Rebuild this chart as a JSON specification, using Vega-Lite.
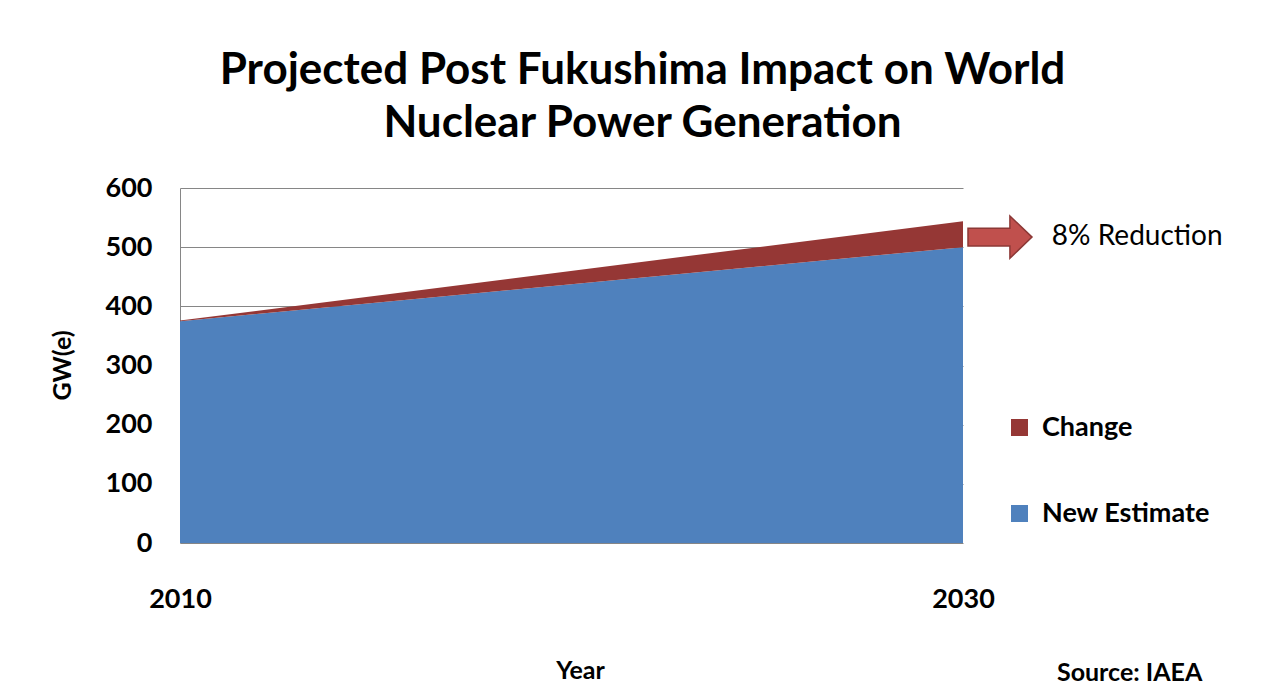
{
  "$schema": "https://vega.github.io/schema/vega-lite/v6.json",
  "autosize": "none",
  "width": 783,
  "height": 355,
  "padding": {"left": 180, "top": 188, "right": 303, "bottom": 153},
  "background": "white",
  "config": {
    "font": "Lato",
    "view": {"stroke": null}
  },
  "title": {
    "text": ["Projected Post Fukushima Impact on World", "Nuclear Power Generation"],
    "anchor": "middle",
    "dx": 71,
    "offset": 28,
    "fontSize": 44,
    "lineHeight": 53,
    "font": "Lato",
    "fontWeight": "bold",
    "color": "black"
  },
  "datasets": {
    "gen": [
      {"year": 2010, "series": "New Estimate", "gw": 375},
      {"year": 2030, "series": "New Estimate", "gw": 500},
      {"year": 2010, "series": "Change", "gw": 1},
      {"year": 2030, "series": "Change", "gw": 44}
    ]
  },
  "layer": [
    {
      "data": {"name": "gen"},
      "mark": {"type": "area", "opacity": 1},
      "encoding": {
        "x": {
          "field": "year", "type": "quantitative",
          "scale": {"domain": [2010, 2030], "nice": false, "zero": false},
          "axis": {
            "values": [2010, 2030], "format": "d", "title": "Year",
            "grid": false, "domain": false, "ticks": false,
            "labelFont": "Lato", "labelFontSize": 27, "labelFontWeight": "bold", "labelColor": "black",
            "labelPadding": 43, "labelFlush": false,
            "titleFont": "Lato", "titleFontSize": 25, "titleFontWeight": "bold", "titleColor": "black",
            "titleX": 400, "titleY": 127, "titleBaseline": "middle", "titleAnchor": null
          }
        },
        "y": {
          "field": "gw", "type": "quantitative", "stack": "zero",
          "scale": {"domain": [0, 600], "nice": false},
          "axis": {
            "values": [0, 100, 200, 300, 400, 500, 600], "title": "GW(e)",
            "grid": true, "gridColor": "#868686", "gridWidth": 1,
            "domain": true, "domainColor": "#868686", "ticks": false,
            "labelFont": "Lato", "labelFontSize": 27, "labelFontWeight": "bold", "labelColor": "black",
            "labelPadding": 28,
            "titleFont": "Lato", "titleFontSize": 25, "titleFontWeight": "bold", "titleColor": "black",
            "titleX": -118, "titleY": 177, "titleAngle": -90, "titleBaseline": "middle", "titleAlign": "center"
          }
        },
        "color": {
          "field": "series", "type": "nominal",
          "scale": {"domain": ["Change", "New Estimate"], "range": ["#953735", "#4F81BD"]},
          "legend": {
            "title": null, "orient": "none", "legendX": 826, "legendY": 226,
            "symbolType": "square", "symbolSize": 289, "symbolStrokeWidth": 0, "symbolOpacity": 1,
            "labelFont": "Lato", "labelFontSize": 27, "labelFontWeight": "bold", "labelColor": "black",
            "labelOffset": 9, "rowPadding": 58, "padding": 0, "labelLimit": 400
          }
        },
        "order": {"field": "series", "sort": "descending"}
      }
    },
    {
      "data": {"values": [{}]},
      "mark": {
        "type": "point", "filled": true, "opacity": 1,
        "shape": "M-1,-0.28 L0.31,-0.28 L0.31,-0.66 L1,0 L0.31,0.66 L0.31,0.28 L-1,0.28 Z",
        "size": 4096, "fill": "#C0504D", "stroke": "#8C3836", "strokeWidth": 1.5
      },
      "encoding": {
        "x": {"datum": 2030.945, "type": "quantitative"},
        "y": {"datum": 517, "type": "quantitative"}
      }
    },
    {
      "data": {"values": [{}]},
      "mark": {"type": "text", "align": "left", "baseline": "middle", "fontSize": 28, "font": "Lato", "color": "black"},
      "encoding": {
        "x": {"datum": 2032.27, "type": "quantitative"},
        "y": {"datum": 517, "type": "quantitative"},
        "text": {"value": "8%  Reduction"}
      }
    },
    {
      "data": {"values": [{}]},
      "mark": {"type": "text", "align": "left", "baseline": "middle", "fontSize": 25, "font": "Lato", "fontWeight": "bold", "color": "black"},
      "encoding": {
        "x": {"datum": 2032.4, "type": "quantitative"},
        "y": {"datum": -220, "type": "quantitative"},
        "text": {"value": "Source: IAEA"}
      }
    }
  ]
}
